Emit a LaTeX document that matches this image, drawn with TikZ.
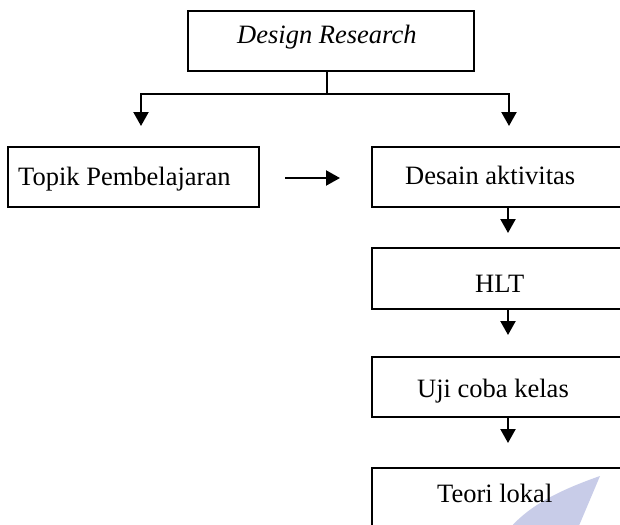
\documentclass[tikz,border=0pt]{standalone}
\usepackage{fontspec}
\setmainfont{Liberation Serif}
\usetikzlibrary{arrows.meta}
\begin{document}
\begin{tikzpicture}[x=1pt,y=-1pt,
  box/.style={draw,line width=1.6pt,rectangle,inner sep=0pt},
  txt/.style={anchor=base west,inner sep=0pt,font=\fontsize{26.5}{30}\selectfont},
  conn/.style={line width=2.2pt},
  arr/.style={line width=2.2pt,-{Triangle[width=15pt,length=14pt]}}]
\path[use as bounding box] (0,0) rectangle (620,524);
\clip (0,0) rectangle (620,524);
\fill[white] (0,0) rectangle (620,524);
% watermark
\fill[color={rgb,255:red,200;green,204;blue,232}] (600,476) .. controls (560,490) and (530,505) .. (510,528) -- (578,528) -- cycle;
% boxes
\node[box,minimum width=286pt,minimum height=60pt] (dr) at (331,41) {};
\node[box,minimum width=251pt,minimum height=60pt] (topik) at (133.5,177) {};
\node[box,minimum width=288pt,minimum height=60pt] (desain) at (516,177) {};
\node[box,minimum width=288pt,minimum height=61pt] (hlt) at (516,278.5) {};
\node[box,minimum width=288pt,minimum height=60pt] (uji) at (516,387) {};
\node[box,minimum width=288pt,minimum height=60pt] (teori) at (516,498) {};
% texts
\node[txt,font=\fontsize{26.5}{30}\selectfont\itshape] (tdr) at (237,44) {Design Research};
\node[txt] (ttopik) at (18,185) {Topik Pembelajaran};
\node[txt] (tdesain) at (405,184) {Desain aktivitas};
\node[txt] (thlt) at (475,292) {HLT};
\node[txt] (tuji) at (417,397) {Uji coba kelas};
\node[txt] (tteori) at (437,502) {Teori lokal};
% connectors
\coordinate (split) at (327,94);
\coordinate (lt) at (141,126);
\coordinate (rt) at (509,126);
\draw[conn] (split |- dr.south) -- (split);
\draw[arr] (split) -| (lt);
\draw[arr] (split) -| (rt);
\coordinate (h1) at (285,178);
\coordinate (h2) at (340,178);
\draw[arr] (h1) -- (h2);
\coordinate (a1) at (508,233);
\coordinate (a2) at (508,335);
\coordinate (a3) at (508,443);
\draw[arr] (a1 |- desain.south) -- (a1);
\draw[arr] (a2 |- hlt.south) -- (a2);
\draw[arr] (a3 |- uji.south) -- (a3);
\end{tikzpicture}
\end{document}
